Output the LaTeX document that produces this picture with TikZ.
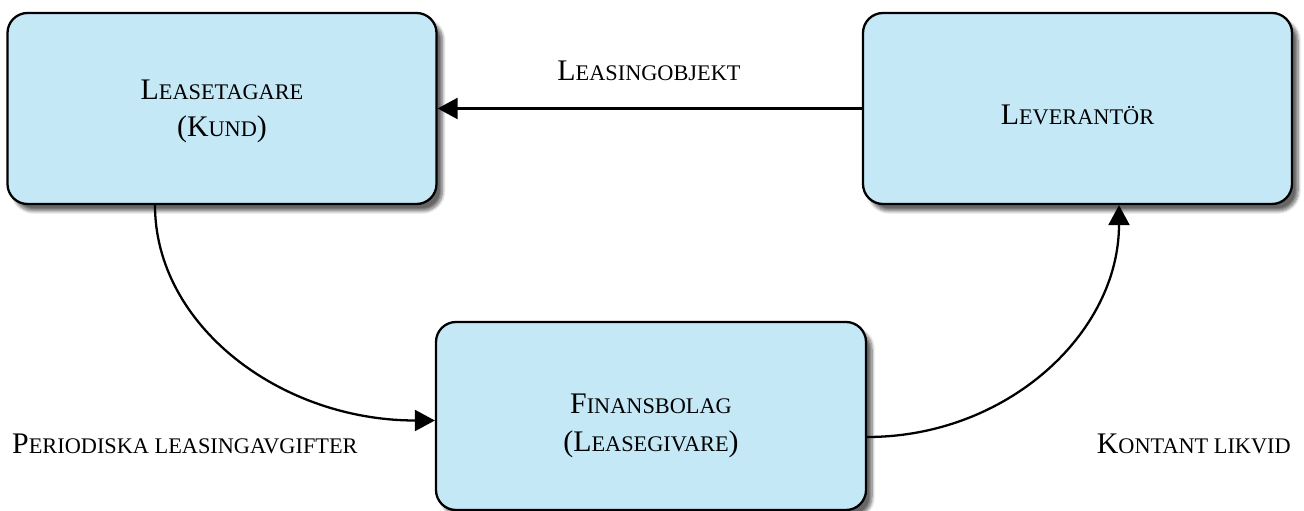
\documentclass[tikz,border=0pt]{standalone}
\usepackage{fontspec}
\setmainfont{Liberation Serif}
\usetikzlibrary{shadows.blur,arrows.meta}

% fake small caps
\newcommand{\sm}[1]{{\fontsize{12.7}{15}\selectfont #1}}

\begin{document}
\begin{tikzpicture}[
		party/.style={draw, line width=1.3pt, rounded corners=0.4cm, fill={rgb,255:red,197;green,232;blue,247},
			minimum width=8.58cm, minimum height=3.82cm,
			blur shadow={shadow xshift=0.12cm, shadow yshift=-0.14cm, shadow blur steps=8, shadow opacity=60}},
		flow/.style={line width=1.3pt, -{Triangle[length=0.4cm, width=0.42cm]}},
		lbl/.style={font=\fontsize{17}{21.5}\selectfont, align=center}
	]
		\useasboundingbox (0,0) rectangle (26.08,10.22);

		% Define boxes
		\node[party] (kund) at (4.44,8.05) {};
		\node[party] (lev) at (21.55,8.05) {};
		\node[party, minimum width=8.6cm, minimum height=3.76cm] (fin) at (13.02,1.9) {};

		% Box texts
		\node[lbl] (kundtxt) at ([yshift=-0.06cm]kund) {L\sm{EASETAGARE}\\(K\sm{UND})};
		\node[lbl] (levtxt) at ([yshift=-0.13cm]lev) {L\sm{EVERANTÖR}};
		\node[lbl] (fintxt) at ([yshift=-0.2cm]fin) {F\sm{INANSBOLAG}\\(L\sm{EASEGIVARE})};

		% Draw the flows
		\draw[flow] (lev.west) -- (kund.east);
		\draw[flow] ([xshift=-1.34cm]kund.south) .. controls +(0,-2.4) and +(-3.1,0) .. ([yshift=-0.09cm]fin.west);
		\draw[flow] ([yshift=-0.42cm]fin.east) .. controls +(2.8,0) and +(0,-2.56) .. ([xshift=0.83cm]lev.south);

		% Labels
		\node[lbl] (objekt) at (12.98,8.8) {L\sm{EASINGOBJEKT}};
		\node[lbl, anchor=west] (avgift) at (0.12,1.34) {P\sm{ERIODISKA LEASINGAVGIFTER}};
		\node[lbl, anchor=east] (likvid) at (25.94,1.34) {K\sm{ONTANT LIKVID}};
	\end{tikzpicture}
\end{document}
